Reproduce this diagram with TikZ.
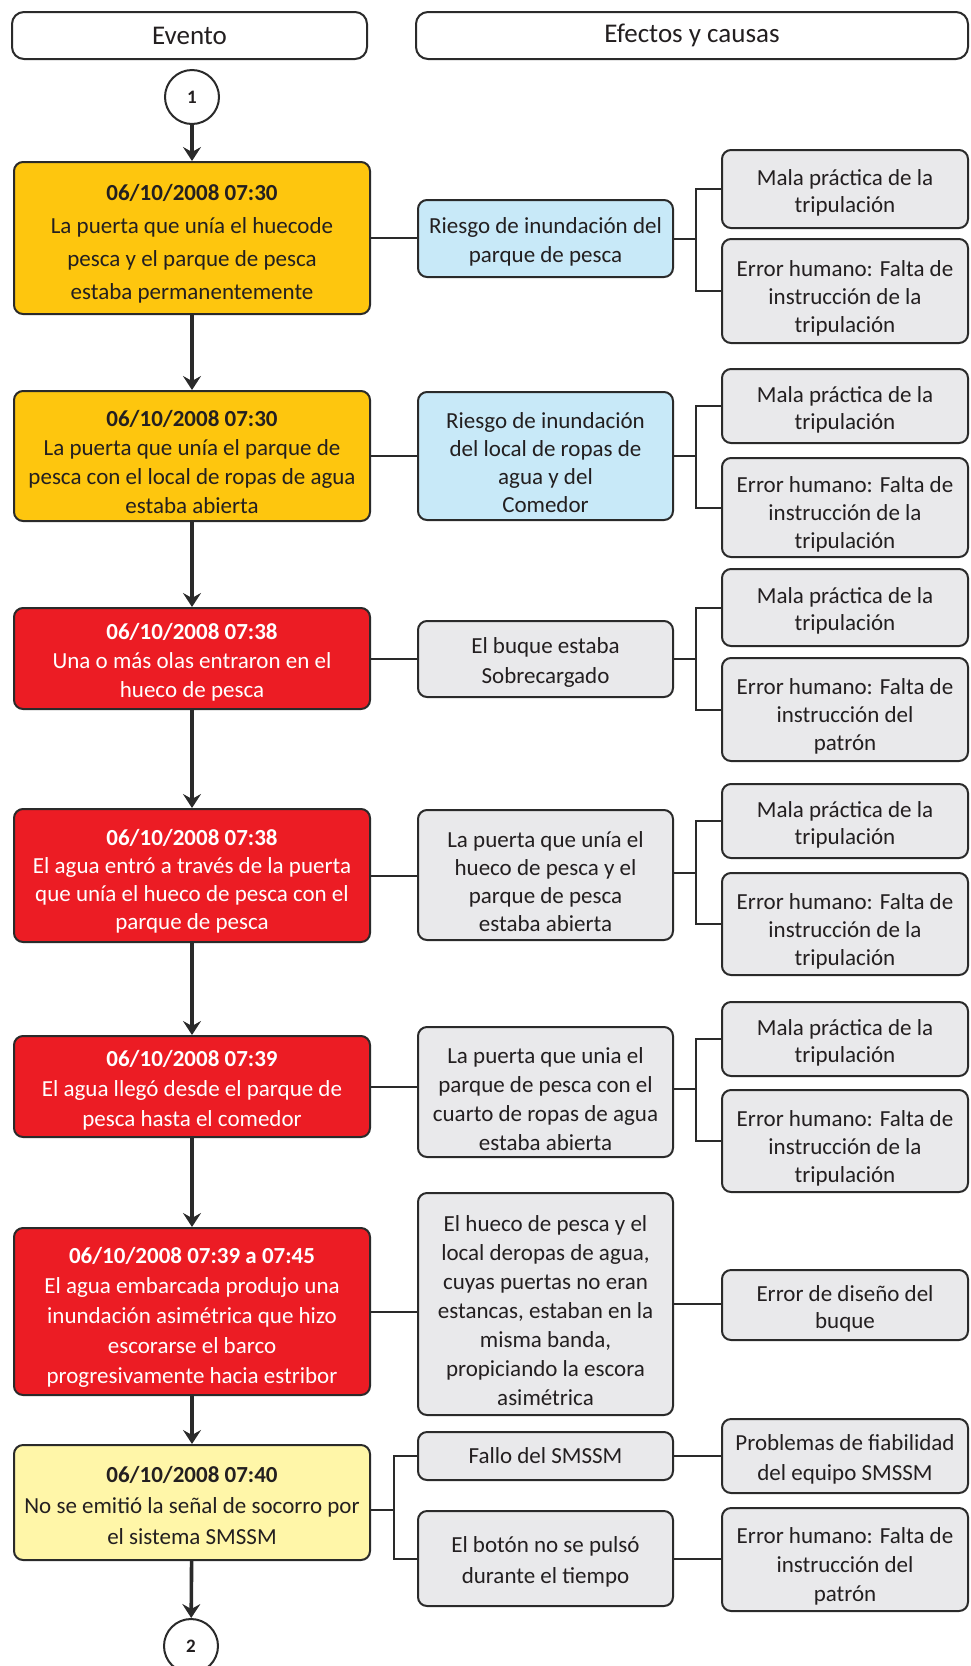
\documentclass[tikz,border=0pt]{standalone}
\usepackage{fontspec}
\setmainfont{Carlito}
\usetikzlibrary{arrows.meta}
\definecolor{orangeF}{HTML}{FEC60E}
\definecolor{redF}{HTML}{EC1C24}
\definecolor{yellowF}{HTML}{FFF6A8}
\definecolor{blueF}{HTML}{C8E9F8}
\definecolor{grayF}{HTML}{E9E9EB}
\definecolor{lineC}{HTML}{2A2A2A}
\definecolor{textC}{HTML}{231F20}
% top struts to push text slightly down inside boxes
\newcommand\strA{\rule{0pt}{30pt}}
\newcommand\strB{\rule{0pt}{23pt}}
\newcommand\strT{\rule{0pt}{28pt}}
\begin{document}
\begin{tikzpicture}[x=1pt,y=-1pt,
  box/.style={draw=lineC, line width=2pt, rounded corners=9pt, align=center,
    inner sep=2pt, text=textC, font=\fontsize{23}{29}\selectfont},
  hdr/.style={box, fill=white, rounded corners=12pt, minimum height=47pt, font=\fontsize{27}{30}\selectfont},
  evbox/.style={box, minimum width=356pt},
  midbox/.style={box, fill=grayF, minimum width=255pt},
  rbox/.style={box, fill=grayF, minimum width=246pt, font=\fontsize{23}{27}\selectfont},
  numc/.style={circle, draw=lineC, line width=2pt, fill=white, minimum size=54pt,
    inner sep=0pt, font=\fontsize{19}{22}\selectfont\bfseries, text=textC},
  flow/.style={draw=lineC, line width=3.6pt, -{Stealth[length=14pt,width=18pt,inset=5pt]}},
  conn/.style={draw=lineC, line width=2pt}
]
\useasboundingbox (0,0) rectangle (970,1666);

% headers
\node[hdr, minimum width=355pt] (hEv) at (189.5,35.5) {Evento};
\node[hdr, minimum width=552pt] (hEf) at (692,35.5) {Efectos y causas};

% numbered circles
\node[numc] (c1) at (192,97) {1};
\node[numc] (c2) at (191,1646) {2};

% event boxes
\node[evbox, fill=orangeF, minimum height=152pt, font=\fontsize{23}{33}\selectfont] (e1) at (192,238)
  {\strT\textbf{06/10/2008 07:30}\\La puerta que unía el huecode\\pesca y el parque de pesca\\estaba permanentemente};
\node[evbox, fill=orangeF, minimum height=130pt] (e2) at (192,456)
  {\strT\textbf{06/10/2008 07:30}\\La puerta que unía el parque de\\pesca con el local de ropas de agua\\estaba abierta};
\node[evbox, fill=redF, text=white, minimum height=101pt] (e3) at (192,658.5)
  {\strB\textbf{06/10/2008 07:38}\\Una o más olas entraron en el\\hueco de pesca};
\node[evbox, fill=redF, text=white, minimum height=133pt, font=\fontsize{23}{28}\selectfont] (e4) at (192,875.5)
  {\strT\textbf{06/10/2008 07:38}\\El agua entró a través de la puerta\\que unía el hueco de pesca con el\\parque de pesca};
\node[evbox, fill=redF, text=white, minimum height=101pt, font=\fontsize{23}{30}\selectfont] (e5) at (192,1086.5)
  {\strB\textbf{06/10/2008 07:39}\\El agua llegó desde el parque de\\pesca hasta el comedor};
\node[evbox, fill=redF, text=white, minimum height=167pt, font=\fontsize{23}{30}\selectfont] (e6) at (192,1311.5)
  {\strT\textbf{06/10/2008 07:39 a 07:45}\\El agua embarcada produjo una\\inundación asimétrica que hizo\\escorarse el barco\\progresivamente hacia estribor};
\node[evbox, fill=yellowF, minimum height=115pt, font=\fontsize{23}{31}\selectfont] (e7) at (192,1502.5)
  {\strB\textbf{06/10/2008 07:40}\\No se emitió la señal de socorro por\\el sistema SMSSM};

% middle boxes
\node[midbox, fill=blueF, minimum height=77pt] (m1) at (545.5,238.5)
  {\strB Riesgo de inundación del\\parque de pesca};
\node[midbox, fill=blueF, minimum height=128pt, font=\fontsize{23}{28}\selectfont] (m2) at (545.5,456)
  {\strA Riesgo de inundación\\del local de ropas de\\agua y del\\Comedor};
\node[midbox, minimum height=76pt, font=\fontsize{23}{30}\selectfont] (m3) at (545.5,659)
  {\strB El buque estaba\\Sobrecargado};
\node[midbox, minimum height=130pt, font=\fontsize{23}{28}\selectfont] (m4) at (545.5,875)
  {\strA La puerta que unía el\\hueco de pesca y el\\parque de pesca\\estaba abierta};
\node[midbox, minimum height=130pt] (m5) at (545.5,1092)
  {\strA La puerta que unia el\\parque de pesca con el\\cuarto de ropas de agua\\estaba abierta};
\node[midbox, minimum height=222pt] (m6) at (545.5,1304)
  {\strA El hueco de pesca y el\\local deropas de agua,\\cuyas puertas no eran\\estancas, estaban en la\\misma banda,\\propiciando la escora\\asimétrica};
\node[midbox, minimum height=48pt] (m7a) at (545.5,1456) {Fallo del SMSSM};
\node[midbox, minimum height=95pt, font=\fontsize{23}{31}\selectfont] (m7b) at (545.5,1558.5)
  {\strB El botón no se pulsó\\durante el tiempo};

% right boxes
\node[rbox, minimum height=78pt] (r1a) at (845,189) {\strB Mala práctica de la\\tripulación};
\node[rbox, minimum height=104pt, font=\fontsize{23}{28}\selectfont] (r1b) at (845,291) {\strA Error humano: Falta de\\instrucción de la\\tripulación};
\node[rbox, minimum height=74pt] (r2a) at (845,406) {\strB Mala práctica de la\\tripulación};
\node[rbox, minimum height=99pt, font=\fontsize{23}{28}\selectfont] (r2b) at (845,507.5) {\strA Error humano: Falta de\\instrucción de la\\tripulación};
\node[rbox, minimum height=77pt] (r3a) at (845,607.5) {\strB Mala práctica de la\\tripulación};
\node[rbox, minimum height=103pt, font=\fontsize{23}{28}\selectfont] (r3b) at (845,709.5) {\strA Error humano: Falta de\\instrucción del\\patrón};
\node[rbox, minimum height=74pt] (r4a) at (845,821) {\strB Mala práctica de la\\tripulación};
\node[rbox, minimum height=102pt, font=\fontsize{23}{28}\selectfont] (r4b) at (845,924) {\strA Error humano: Falta de\\instrucción de la\\tripulación};
\node[rbox, minimum height=74pt] (r5a) at (845,1039) {\strB Mala práctica de la\\tripulación};
\node[rbox, minimum height=102pt, font=\fontsize{23}{28}\selectfont] (r5b) at (845,1141) {\strA Error humano: Falta de\\instrucción de la\\tripulación};
\node[rbox, minimum height=70pt] (r6) at (845,1305) {\strB Error de diseño del\\buque};
\node[rbox, minimum height=74pt, font=\fontsize{23}{30}\selectfont] (r7a) at (845,1456) {\strB Problemas de fiabilidad\\del equipo SMSSM};
\node[rbox, minimum height=103pt, font=\fontsize{23}{29}\selectfont] (r7b) at (845,1559.5) {\strA Error humano: Falta de\\instrucción del\\patrón};

% main flow
\draw[flow] (c1) -- (e1);
\draw[flow] (e1) -- (e2);
\draw[flow] (e2) -- (e3);
\draw[flow] (e3) -- (e4);
\draw[flow] (e4) -- (e5);
\draw[flow] (e5) -- (e6);
\draw[flow] (e6) -- (e7);
\draw[flow] (e7) -- (c2);

% event to middle
\draw[conn] (e1.east) -- (e1.east -| m1.west);
\draw[conn] (e2.east) -- (e2.east -| m2.west);
\draw[conn] (e3.east) -- (e3.east -| m3.west);
\draw[conn] (e4.east) -- (e4.east -| m4.west);
\draw[conn] (e5.east) -- (e5.east -| m5.west);
\draw[conn] (e6.east) -- (e6.east -| m6.west);

% brackets
\coordinate (b1) at (696,238.5);
\coordinate (b2) at (696,456);
\coordinate (b3) at (696,659);
\coordinate (b4) at (696,873);
\coordinate (b5) at (696,1089);
\draw[conn] (m1.east) -- (b1);
\draw[conn] (r1a.west) -| (b1) |- (r1b.west);
\draw[conn] (m2.east) -- (b2);
\draw[conn] (r2a.west) -| (b2) |- (r2b.west);
\draw[conn] (m3.east) -- (b3);
\draw[conn] (r3a.west) -| (b3) |- (r3b.west);
\draw[conn] (m4.east |- b4) -- (b4);
\draw[conn] (r4a.west) -| (b4) |- (r4b.west);
\draw[conn] (m5.east |- b5) -- (b5);
\draw[conn] (r5a.west) -| (b5) |- (r5b.west);
\draw[conn] (m6.east) -- (m6.east -| r6.west);

\coordinate (b7) at (394,1510);
\draw[conn] (e7.east |- b7) -- (b7);
\draw[conn] (m7a.west) -| (b7) |- (m7b.west);
\draw[conn] (m7a.east) -- (r7a.west);
\draw[conn] (m7b.east) -- (m7b.east -| r7b.west);
\end{tikzpicture}
\end{document}
